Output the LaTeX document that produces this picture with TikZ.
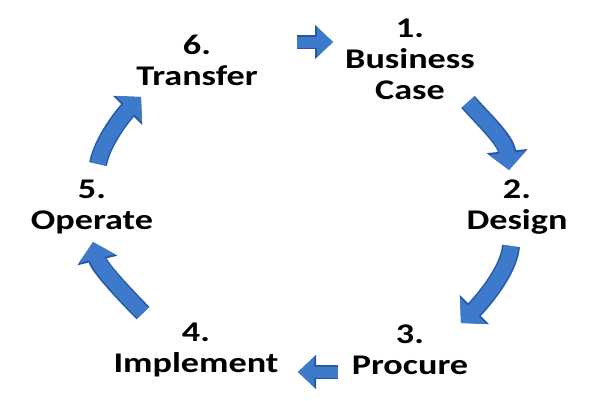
\documentclass[tikz,border=0pt]{standalone}
\usepackage{fontspec}
\setmainfont{Carlito}[FakeStretch=1.27]
\usetikzlibrary{arrows.meta}
\definecolor{arrowblue}{RGB}{62,122,204}
\definecolor{arrowdark}{RGB}{38,88,165}
\begin{document}
\begin{tikzpicture}[x=1pt,y=-1pt,
  lbl/.style={font=\bfseries\fontsize{28.5}{31}\selectfont, align=center, inner sep=0pt, text=black},
  bigarrow/.style={line width=15pt, draw=arrowblue, -{Triangle[width=36pt,length=17pt]},
    preaction={draw=arrowdark, line width=18pt, -{Triangle[width=40pt,length=19pt]}}},
  smallarrow/.style={line width=11pt, draw=arrowblue, -{Triangle[width=29pt,length=16pt]},
    preaction={draw=arrowdark, line width=14pt, -{Triangle[width=33pt,length=18pt]}}}
]
\useasboundingbox (0,0) rectangle (600,400);
\fill[white] (0,0) rectangle (600,400);

\node[lbl] (transfer) at (197,60) {6.\\Transfer};
\node[lbl] (business) at (410,59) {1.\\Business\\Case};
\node[lbl] (design) at (517,207) {2.\\Design};
\node[lbl] (procure) at (410,350) {3.\\Procure};
\node[lbl] (implement) at (196,350) {4.\\Implement};
\node[lbl] (operate) at (92,207) {5.\\Operate};

\coordinate (a1s) at (297,42);  \coordinate (a1e) at (333,42);
\coordinate (a2s) at (468,102); \coordinate (a2e) at (509,170);
\coordinate (a3s) at (511,246); \coordinate (a3e) at (461,323);
\coordinate (a4s) at (338,372); \coordinate (a4e) at (298,372);
\coordinate (a5s) at (143,313); \coordinate (a5e) at (93,242);
\coordinate (a6s) at (98,164);  \coordinate (a6e) at (141,97);

\draw[smallarrow] (a1s) -- (a1e);
\draw[bigarrow] (a2s) .. controls (482,118) and (506,140) .. (a2e);
\draw[bigarrow] (a3s) .. controls (509,272) and (479,305) .. (a3e);
\draw[smallarrow] (a4s) -- (a4e);
\draw[bigarrow] (a5s) .. controls (125,295) and (99,267) .. (a5e);
\draw[bigarrow] (a6s) .. controls (102,142) and (123,115) .. (a6e);
\end{tikzpicture}
\end{document}
